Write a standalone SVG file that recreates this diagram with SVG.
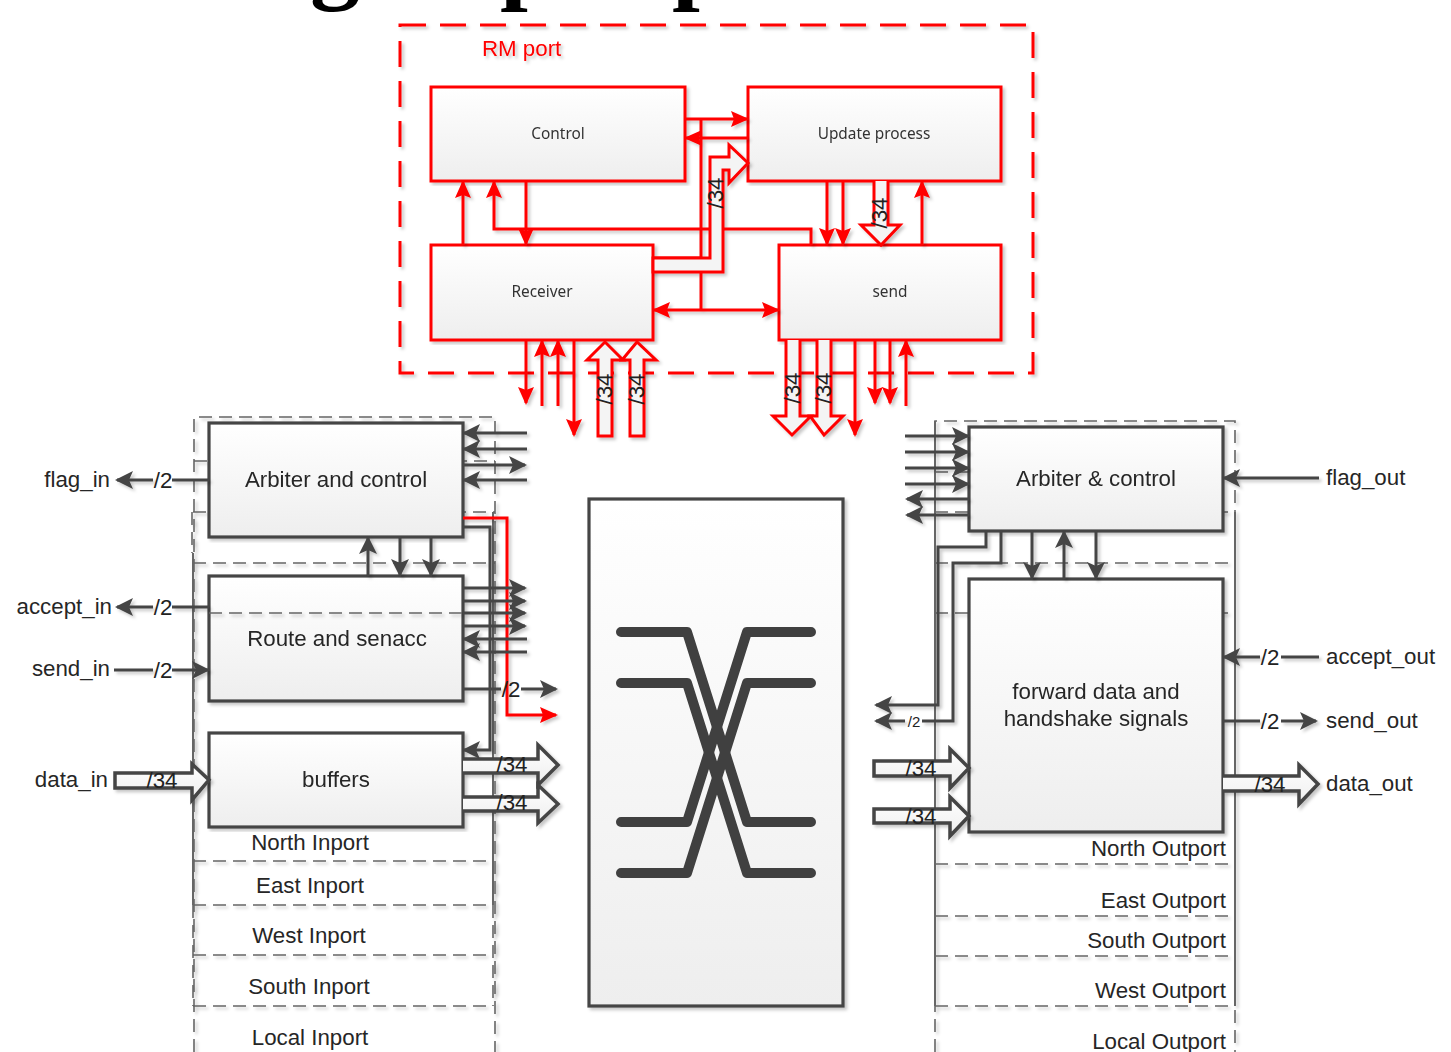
<svg xmlns="http://www.w3.org/2000/svg" width="1451" height="1052" viewBox="0 0 1451 1052">
<style>
text{font-family:"Liberation Sans",Arial,sans-serif;font-size:22.3px;fill:#262626}
.m{text-anchor:middle}.e{text-anchor:end}
.s{font-family:"Noto Sans","Liberation Sans",sans-serif;font-size:15.4px;fill:#333;text-anchor:middle}
.lab{text-anchor:middle;dominant-baseline:central;fill:#222}
.dbox{fill:url(#g);stroke:#444;stroke-width:3.2}
.rbox{fill:url(#g);stroke:#f00;stroke-width:3}
.d{fill:none;stroke:#444;stroke-width:3}
.ad{marker-end:url(#ah)}
.r{fill:none;stroke:#f00;stroke-width:3}
.ar{marker-end:url(#rh)}
.bd{fill:url(#g);stroke:#444;stroke-width:3.5;stroke-linejoin:miter}
.br{fill:#f4f4f4;stroke:#f00;stroke-width:3}
.fr{fill:none;stroke:#666;stroke-width:1.6;stroke-dasharray:13 7}
.fs{fill:none;stroke:#666;stroke-width:2}
.x{fill:none;stroke:#404040;stroke-width:10;stroke-linecap:round;stroke-linejoin:round}
</style>
<defs>
<linearGradient id="g" x1="0" y1="0" x2="0" y2="1"><stop offset="0" stop-color="#fff"/><stop offset="1" stop-color="#eee"/></linearGradient>
<marker id="ah" markerUnits="userSpaceOnUse" markerWidth="22" markerHeight="22" refX="18" refY="11" orient="auto"><path d="M20 11L2 2 6 11 2 20z" fill="#444"/></marker>
<marker id="rh" markerUnits="userSpaceOnUse" markerWidth="22" markerHeight="22" refX="18" refY="11" orient="auto"><path d="M20 11L2 3 5 11 2 19z" fill="#f00"/></marker>
<marker id="rs" markerUnits="userSpaceOnUse" markerWidth="22" markerHeight="22" refX="4" refY="11" orient="auto"><path d="M2 11L20 3 17 11 20 19z" fill="#f00"/></marker>
<filter id="sh" x="-5%" y="-5%" width="110%" height="110%"><feDropShadow dx="2.5" dy="2.5" stdDeviation="1.8" flood-color="#000" flood-opacity=".22"/></filter>
</defs>
<rect width="1451" height="1052" fill="#fff"/>
<text id="title-fragment" x="310 500 672" y="-9" style="font-family:'Liberation Serif',serif;font-size:100px;font-weight:bold;fill:#000">gpp</text>

<g id="port-frames" filter="url(#sh)">
<path class="fr" d="M194 1052V417H495V1052"/>
<path class="fr" d="M194 461H495M193 512H495M193 563H495M193 861H490M193 905H490M193 955H490M193 1006H490"/>
<path class="fr" d="M192 512V553"/>
<path class="fs" d="M193 553V905M493 512V905"/>
<path class="fr" d="M193 905V1006M493 905V1006"/>
<path class="fr" d="M935 1052V421H1235V1052"/>
<path class="fr" d="M935 472H969M935 512H1235M935 563H1235M935 613H1235M935 864H1230M935 916H1230M935 956H1230M935 1006H1230"/>
<path class="fs" d="M935 421V1006M1235 512V1006"/>
</g>

<g id="rm-port" filter="url(#sh)">
<rect x="400" y="25" width="633" height="348" fill="none" stroke="#f00" stroke-width="3" stroke-dasharray="26 14"/>
<text x="482" y="56" style="fill:#f00">RM port</text>
</g>
<g id="control" filter="url(#sh)"><rect class="rbox" x="431" y="87" width="254" height="94"/><text class="s" x="558" y="139">Control</text></g>
<g id="update-process" filter="url(#sh)"><rect class="rbox" x="748" y="87" width="253" height="94"/><text class="s" x="874" y="139">Update process</text></g>
<g id="receiver" filter="url(#sh)"><rect class="rbox" x="431" y="245" width="222" height="95"/><text class="s" x="542" y="297">Receiver</text></g>
<g id="send" filter="url(#sh)"><rect class="rbox" x="779" y="245" width="222" height="95"/><text class="s" x="890" y="297">send</text></g>

<g id="arbiter-and-control" filter="url(#sh)"><rect class="dbox" x="209" y="423" width="254" height="114"/><text class="m" x="336" y="487">Arbiter and control</text></g>
<g id="route-and-senacc" filter="url(#sh)"><rect class="dbox" x="209" y="576" width="254" height="125"/><text class="m" x="337" y="646">Route and senacc</text></g>
<g id="buffers" filter="url(#sh)"><rect class="dbox" x="209" y="733" width="254" height="94"/><text class="m" x="336" y="787">buffers</text></g>

<g id="crossbar" filter="url(#sh)">
<rect class="dbox" x="589" y="499" width="254" height="507"/>
<path class="x" d="M621 632H687L747 822H811"/>
<path class="x" d="M621 683H687L747 873H811"/>
<path class="x" d="M621 822H687L747 632H811"/>
<path class="x" d="M621 873H687L747 683H811"/>
</g>

<g id="arbiter-control-out" filter="url(#sh)"><rect class="dbox" x="969" y="427" width="254" height="104"/><text class="m" x="1096" y="486">Arbiter &amp; control</text></g>
<g id="forward-data" filter="url(#sh)"><rect class="dbox" x="969" y="579" width="254" height="253"/><text class="m" x="1096" y="699">forward data and</text><text class="m" x="1096" y="726">handshake signals</text></g>

<g id="connectors" filter="url(#sh)">
<path class="r ar" d="M685 119H747"/>
<path class="r ar" d="M748 138H686"/>
<path class="r" d="M701 119V310"/>
<path class="r ar" d="M811 245V229H494V182"/>
<path class="r ar" d="M463 245V182"/>
<path class="r ar" d="M526 181V244"/>
<path class="r" d="M653 258H701"/>
<path class="br" d="M653 258H710V157H729V145L748 163 729 183V170H723V272H653z"/>
<path class="r ar" d="M827 181V244"/>
<path class="r ar" d="M843 181V244"/>
<path class="br" d="M874 181V225H861L881 245 900 225H888V181"/>
<path class="r ar" d="M922 245V182"/>
<path d="M654 310H778" class="r ar" marker-start="url(#rs)"/>
<path class="r ar" d="M526 340V403"/>
<path class="r ar" d="M542 406V341"/>
<path class="r ar" d="M558 406V341"/>
<path class="r ar" d="M574 340V435"/>
<path class="br" d="M598 436V360H587L605 342 623 360H612V436z"/>
<path class="br" d="M630 436V360H622L637 342 656 360H644V436z"/>
<path class="br" d="M786 340V416H773L792 435 811 416H800V340"/>
<path class="br" d="M817 340V416H810L824 435 843 416H831V340"/>
<path class="r ar" d="M855 340V435"/>
<path class="r ar" d="M875 340V403"/>
<path class="r ar" d="M890 340V403"/>
<path class="r ar" d="M906 406V341"/>
<path class="r ar" d="M463 518H507V715H556"/>
<path class="d" d="M209 480H172"/><path class="d ad" d="M153 480H117"/>
<path class="d" d="M209 607H172"/><path class="d ad" d="M153 607H117"/>
<path class="d" d="M114 670H153"/><path class="d ad" d="M172 670H208"/>
<path class="bd" d="M115 773H192V764L209 780 192 800V788H115z"/>
<path class="d ad" d="M527 433H464"/>
<path class="d ad" d="M527 449H464"/>
<path class="d ad" d="M463 465H525"/>
<path class="d ad" d="M527 480H464"/>
<path class="d ad" d="M463 527H490V750H464"/>
<path class="d ad" d="M463 588H525"/>
<path class="d ad" d="M463 601H525"/>
<path class="d ad" d="M463 613H525"/>
<path class="d ad" d="M463 626H525"/>
<path class="d ad" d="M527 639H464"/>
<path class="d ad" d="M527 652H464"/>
<path class="d" d="M463 689H501"/><path class="d ad" d="M521 689H556"/>
<path class="d ad" d="M368 576V538"/>
<path class="d ad" d="M400 537V575"/>
<path class="d ad" d="M431 537V575"/>
<path class="bd" d="M463 759H538V745L558 765 538 785V773H463"/>
<path class="bd" d="M463 797H538V785L558 804 538 823V811H463"/>
<path d="M209 613H463" fill="none" stroke="#666" stroke-width="1.6" stroke-dasharray="13 7"/>
<path class="d ad" d="M905 436H968"/>
<path class="d ad" d="M905 452H968"/>
<path class="d ad" d="M905 468H968"/>
<path class="d ad" d="M905 484H968"/>
<path class="d ad" d="M969 499H907"/>
<path class="d ad" d="M969 515H907"/>
<path class="d ad" d="M986 531V547H938V705H876"/>
<path class="d" d="M1001 531V563H953V721H922"/><path class="d ad" d="M905 721H876"/>
<path class="d ad" d="M1032 531V578"/>
<path class="d ad" d="M1064 579V532"/>
<path class="d ad" d="M1096 531V578"/>
<path class="d ad" d="M1319 478H1224"/>
<path class="d" d="M1319 657H1281"/><path class="d ad" d="M1260 657H1224"/>
<path class="d" d="M1223 721H1260"/><path class="d ad" d="M1281 721H1316"/>
<path class="bd" d="M1223 776H1299V765L1318 784 1299 804V791H1223"/>
<path class="bd" d="M874 761H950V749L969 768 950 788V776H874z"/>
<path class="bd" d="M874 809H950V797L969 816 950 836V823H874z"/>
</g>

<g id="labels">
<text class="lab" transform="translate(715 193) rotate(-90)">/34</text>
<text class="lab" transform="translate(879 213) rotate(-90)">/34</text>
<text class="lab" transform="translate(604 389) rotate(-90)">/34</text>
<text class="lab" transform="translate(636 389) rotate(-90)">/34</text>
<text class="lab" transform="translate(792 388) rotate(-90)">/34</text>
<text class="lab" transform="translate(823 388) rotate(-90)">/34</text>
<text class="lab" x="163" y="480">/2</text>
<text class="lab" x="163" y="607">/2</text>
<text class="lab" x="163" y="670">/2</text>
<text class="lab" x="162" y="780">/34</text>
<text class="lab" x="511" y="689">/2</text>
<text class="lab" x="512" y="764">/34</text>
<text class="lab" x="512" y="802">/34</text>
<text class="lab" x="1270" y="657">/2</text>
<text class="lab" x="1270" y="721">/2</text>
<text class="lab" x="1270" y="784">/34</text>
<text class="lab" x="921" y="768">/34</text>
<text class="lab" x="921" y="816">/34</text>
<text class="lab" x="914" y="721" style="font-size:15px">/2</text>
<text class="e" x="110" y="487">flag_in</text>
<text class="e" x="112" y="614">accept_in</text>
<text class="e" x="110" y="676">send_in</text>
<text class="e" x="108" y="787">data_in</text>
<text x="1326" y="485">flag_out</text>
<text x="1326" y="664">accept_out</text>
<text x="1326" y="728">send_out</text>
<text x="1326" y="791">data_out</text>
<text class="m" x="310" y="850">North Inport</text>
<text class="m" x="310" y="893">East Inport</text>
<text class="m" x="309" y="943">West Inport</text>
<text class="m" x="309" y="994">South Inport</text>
<text class="m" x="310" y="1045">Local Inport</text>
<text class="e" x="1226" y="856">North Outport</text>
<text class="e" x="1226" y="908">East Outport</text>
<text class="e" x="1226" y="948">South Outport</text>
<text class="e" x="1226" y="998">West Outport</text>
<text class="e" x="1226" y="1049">Local Outport</text>
</g>
</svg>
